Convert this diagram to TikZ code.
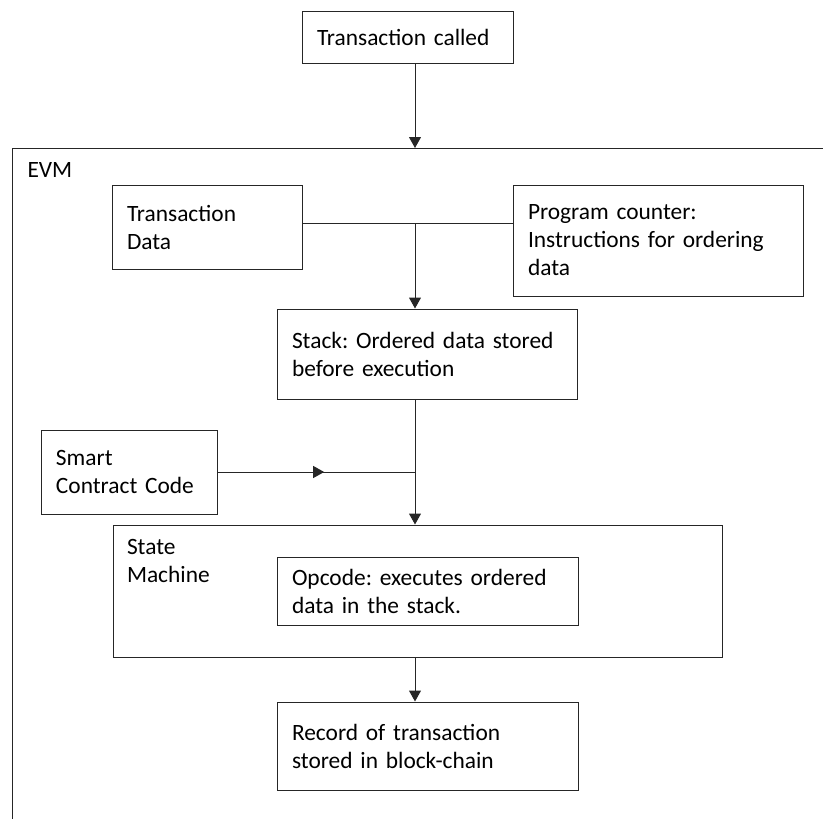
\documentclass[tikz,border=0pt]{standalone}
\usepackage{fontspec}
\setmainfont{Carlito}
\usepackage{tikz}
\usetikzlibrary{positioning, arrows.meta, calc}
\frenchspacing

\begin{document}
\begin{tikzpicture}[x=1pt, y=-1pt,
    font=\fontsize{23.4}{28}\selectfont,
    line width=1pt, draw=black!85,
    box/.style={draw, inner xsep=15pt, inner ysep=0pt, align=left},
    arr/.style={-{Triangle[width=12pt,length=11pt]}}]
  \useasboundingbox (0,0) rectangle (823,819);
  \coordinate (spine) at (415,0);
  \coordinate (evmtop) at (415,148);
  \coordinate (join) at (415,223);
  \coordinate (merge) at (415,472);
  % EVM frame, open at right and bottom
  \draw (823,148) -- (12.5,148) -- (12.5,819);
  \node[anchor=base west, inner sep=0pt] (evm) at (27,177) {EVM};
  \node[box, text width=181pt, minimum height=52pt] (called) at (407.5,37) {Transaction called};
  \node[box, text width=160pt, minimum height=84pt] (txdata) at (207,227) {Transaction\\Data};
  \node[box, text width=260pt, minimum height=111pt] (pcount) at (658,240.5) {Program counter:\\Instructions for ordering\\data};
  \node[box, text width=270pt, minimum height=90pt] (stack) at (427,354) {Stack: Ordered data stored\\before execution};
  \node[box, text width=146pt, minimum height=84pt] (code) at (129,472) {Smart\\Contract Code};
  \node[box, text width=579pt, minimum height=132pt] (sm) at (417.5,591) {};
  \node[anchor=north west, inner sep=0pt, align=left] (smlabel) at ([shift={(14,14)}]sm.north west) {State\\Machine};
  \node[box, text width=271pt, minimum height=68pt] (opcode) at (427.5,591) {Opcode: executes ordered\\data in the stack.};
  \node[box, text width=271pt, minimum height=88pt] (record) at (427.5,746) {Record of transaction\\stored in block-chain};
  % connectors
  \draw[arr] (called.south -| evmtop) -- (evmtop);
  \draw (txdata.east |- join) -- (pcount.west |- join);
  \draw[arr] (join) -- (stack.north -| join);
  \draw[arr] (stack.south -| spine) -- (sm.north -| spine);
  \draw (code.east) -- (merge);
  \draw[arr] (code.east) -- ($(code.east)!0.54!(merge)$);
  \draw[arr] (sm.south -| spine) -- (record.north -| spine);
\end{tikzpicture}
\end{document}
